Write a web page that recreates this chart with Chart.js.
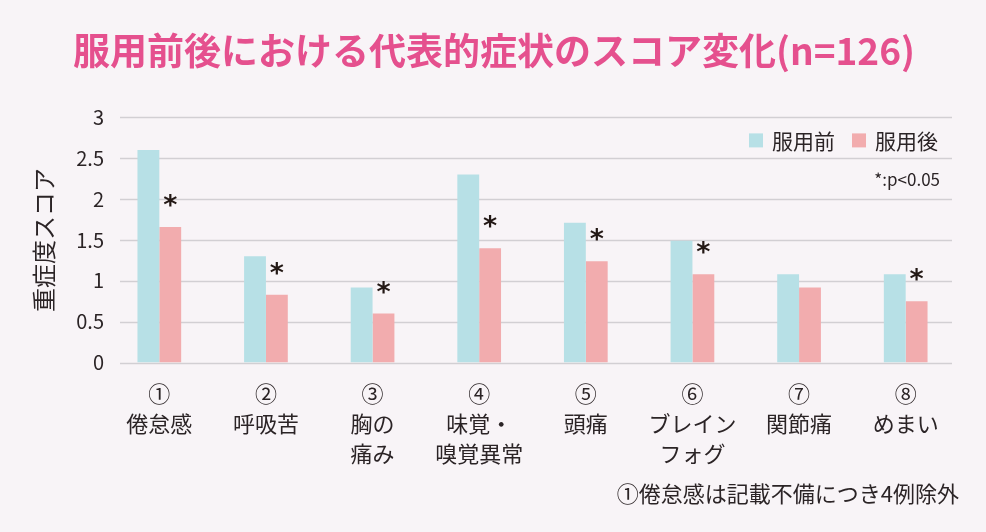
<!DOCTYPE html>
<html lang="ja">
<head>
  <meta charset="UTF-8">
  <title>服用前後における代表的症状のスコア変化</title>
  <script src="https://cdn.jsdelivr.net/npm/chart.js"></script>
  <style>
    body {
      margin: 0;
      background: #f8f4f7;
    }
    #wrap {
      width: 986px;
      height: 532px;
    }
  </style>
</head>
<body>
  <div id="wrap">
    <canvas id="scoreChart" width="986" height="532"></canvas>
  </div>
  <script>
    const categories = [
      ['①', '倦怠感'],
      ['②', '呼吸苦'],
      ['③', '胸の', '痛み'],
      ['④', '味覚・', '嗅覚異常'],
      ['⑤', '頭痛'],
      ['⑥', 'ブレイン', 'フォグ'],
      ['⑦', '関節痛'],
      ['⑧', 'めまい']
    ];
    const beforeScores = [2.6, 1.3, 0.92, 2.3, 1.71, 1.49, 1.08, 1.08];
    const afterScores = [1.66, 0.83, 0.6, 1.4, 1.24, 1.08, 0.92, 0.75];
    const significant = [true, true, true, true, true, true, false, true];
    const yTicks = [0, 0.5, 1, 1.5, 2, 2.5, 3];

    const FONT = '"Noto Sans CJK JP", "Noto Sans", sans-serif';
    const TEXT = '#2b2426';

    // horizontal grid lines, a bit shorter than the plot area like the original
    const gridPlugin = {
      id: 'shortGrid',
      beforeDatasetsDraw(chart) {
        const { ctx, chartArea, scales } = chart;
        ctx.save();
        ctx.strokeStyle = '#d2cfd3';
        ctx.lineWidth = 1.5;
        yTicks.forEach(v => {
          const y = Math.round(scales.y.getPixelForValue(v)) + 0.5;
          ctx.beginPath();
          ctx.moveTo(chartArea.left + 14, y);
          ctx.lineTo(chartArea.right - 7, y);
          ctx.stroke();
        });
        ctx.restore();
      }
    };

    // asterisks over significant "after" bars, legend row, p-value note
    const overlayPlugin = {
      id: 'overlay',
      afterDatasetsDraw(chart) {
        const { ctx, chartArea } = chart;
        const meta = chart.getDatasetMeta(1);
        ctx.save();
        ctx.fillStyle = '#231815';
        ctx.font = 'bold 27px "DejaVu Sans"';
        ctx.textAlign = 'center';
        ctx.textBaseline = 'alphabetic';
        const m = ctx.measureText('*');
        meta.data.forEach((bar, i) => {
          if (!significant[i]) return;
          ctx.fillText('*', bar.x, bar.y - 6 + m.actualBoundingBoxDescent);
        });

        // legend, right aligned inside the plot
        ctx.font = '21px ' + FONT;
        ctx.textAlign = 'left';
        ctx.textBaseline = 'middle';
        const ly = chartArea.top + 23;
        let x = chartArea.right - 21;
        chart.data.datasets.slice().reverse().forEach(ds => {
          const w = ctx.measureText(ds.label).width;
          const tx = x - w;
          const bx = tx - 9 - 14;
          ctx.fillStyle = ds.backgroundColor;
          ctx.fillRect(bx, ly - 7, 14, 14);
          ctx.fillStyle = TEXT;
          ctx.fillText(ds.label, tx, ly + 1);
          x = bx - 17;
        });

        ctx.font = '17px ' + FONT;
        ctx.textAlign = 'right';
        ctx.fillText('*:p<0.05', chartArea.right - 19, chartArea.top + 62);
        ctx.restore();
      }
    };

    new Chart(document.getElementById('scoreChart'), {
      type: 'bar',
      data: {
        labels: categories,
        datasets: [
          {
            label: '服用前',
            data: beforeScores,
            backgroundColor: '#b7e0e6',
            barPercentage: 1,
            categoryPercentage: 0.41
          },
          {
            label: '服用後',
            data: afterScores,
            backgroundColor: '#f2acae',
            barPercentage: 1,
            categoryPercentage: 0.41
          }
        ]
      },
      options: {
        responsive: false,
        animation: false,
        layout: { padding: { left: 29, right: 27, top: 0, bottom: 0 } },
        scales: {
          x: {
            afterFit: s => { s.height = 108; },
            grid: { display: false, drawTicks: false },
            border: { display: false },
            ticks: {
              color: TEXT,
              font: { family: FONT, size: 22, lineHeight: 1.36 },
              padding: 16,
              maxRotation: 0,
              autoSkip: false
            }
          },
          y: {
            min: 0,
            max: 3,
            afterFit: s => { s.width = 77; },
            afterBuildTicks: s => { s.ticks = yTicks.map(v => ({ value: v })); },
            grid: { display: false, drawTicks: false },
            border: { display: false },
            ticks: {
              color: TEXT,
              font: { family: FONT, size: 20 },
              padding: 2,
              callback: v => String(v)
            },
            title: {
              display: true,
              text: '重症度スコア',
              color: TEXT,
              font: { family: FONT, size: 24 },
              padding: 0
            }
          }
        },
        plugins: {
          title: {
            display: true,
            text: '服用前後における代表的症状のスコア変化(n=126)',
            color: '#e5508e',
            font: { family: FONT, size: 37, weight: 'bold' },
            padding: { top: 29, bottom: 44 }
          },
          subtitle: {
            display: true,
            position: 'bottom',
            align: 'end',
            text: '①倦怠感は記載不備につき4例除外',
            color: TEXT,
            font: { family: FONT, size: 22 },
            padding: { top: 10, bottom: 25 }
          },
          legend: { display: false },
          tooltip: { enabled: false }
        }
      },
      plugins: [gridPlugin, overlayPlugin]
    });
  </script>
</body>
</html>
